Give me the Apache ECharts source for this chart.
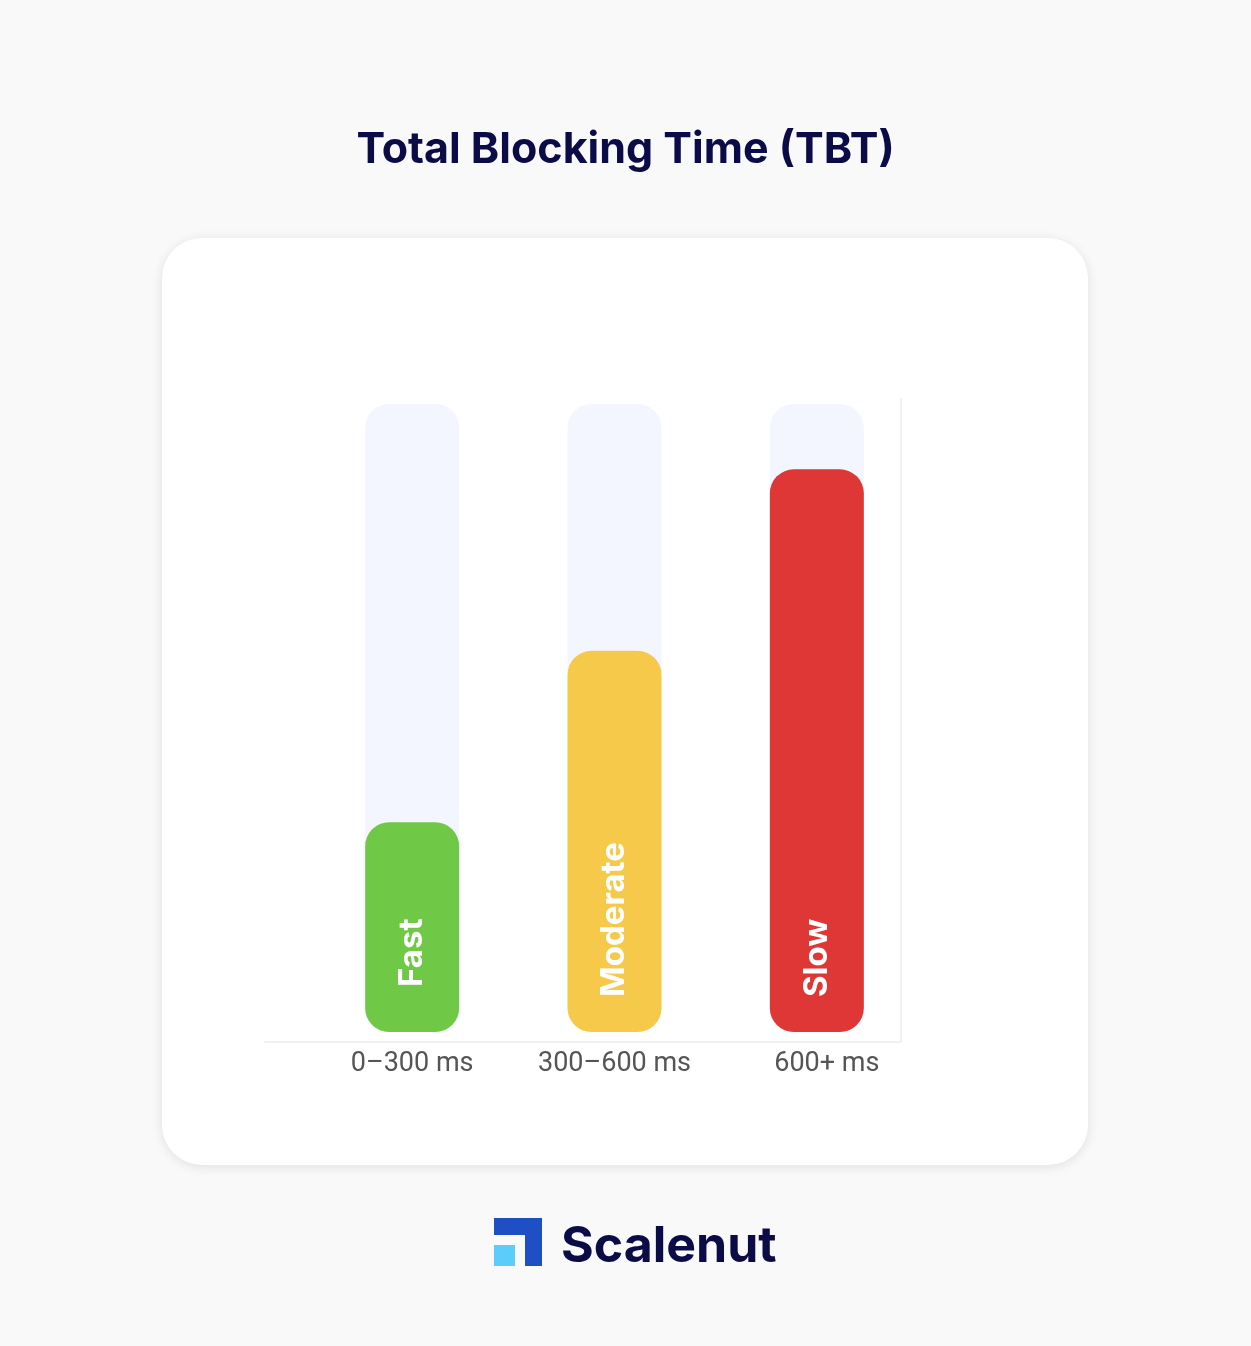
<!DOCTYPE html>
<html><head><meta charset="utf-8">
<script src="https://cdn.jsdelivr.net/npm/echarts@6/dist/echarts.min.js"></script>
<style>html,body{margin:0;padding:0;background:#f9f9f9}#c{width:1251px;height:1346px}</style>
</head><body><div id="c"></div>
<script>
const categories = ['0–300 ms', '300–600 ms', '600+ ms'];
const speedLabels = ['Fast', 'Moderate', 'Slow'];
const values = [33.4, 60.7, 89.6];
const barColors = ['#6fc846', '#f6c94a', '#df3636'];
const maxValue = 100;

const labelShift = [0, 0, 20];
const labelDistance = [45, 35, 35];

const chart = echarts.init(document.getElementById('c'), null, {renderer: 'canvas'});
chart.setOption({
  backgroundColor: '#f9f9f9',
  animation: false,
  title: {
    text: 'Total Blocking Time (TBT)',
    left: 'center', top: 124,
    textStyle: {fontFamily: 'Inter', fontWeight: 'bold', fontSize: 43, color: '#0b0b48', letterSpacing: -1.3}
  },
  graphic: [
    {type: 'rect', z: -5, shape: {x: 162, y: 238, width: 926, height: 927, r: 40},
     style: {fill: '#ffffff', shadowBlur: 12, shadowColor: 'rgba(0,0,0,0.10)', shadowOffsetY: 2}},
    {type: 'line', z: 1, shape: {x1: 264, y1: 1042, x2: 901, y2: 1042}, style: {stroke: '#eef1fa', lineWidth: 2}},
    {type: 'line', z: 1, shape: {x1: 901, y1: 398, x2: 901, y2: 1042}, style: {stroke: '#eef1fa', lineWidth: 2}},
    {type: 'polygon', z: 5, shape: {points: [[494,1218],[542,1218],[542,1266],[525,1266],[525,1235],[494,1235]]}, style: {fill: '#1f4fc4'}},
    {type: 'rect', z: 5, shape: {x: 494, y: 1245, width: 21, height: 21}, style: {fill: '#5ccdfa'}},
    {type: 'text', z: 5, x: 561, y: 1247, style: {text: 'Scalenut', fontFamily: 'Inter', fontWeight: 'bold', fontSize: 50, fill: '#0b0b48', verticalAlign: 'middle', letterSpacing: -1.2}}
  ],
  grid: {left: 311, top: 404, width: 607, height: 628, containLabel: false},
  xAxis: {
    type: 'category',
    data: categories.map((c, i) => ({value: c, textStyle: {padding: [0, 0, 0, labelShift[i]]}})),
    axisLine: {show: false}, axisTick: {show: false},
    axisLabel: {margin: 19, fontFamily: 'Roboto', fontSize: 27, color: '#555555'}
  },
  yAxis: {type: 'value', min: 0, max: maxValue, show: false, splitLine: {show: false}},
  series: [{
    type: 'bar', barWidth: 94,
    data: values.map((v, i) => ({value: v, itemStyle: {color: barColors[i]},
      label: {formatter: speedLabels[i], distance: labelDistance[i]}})),
    itemStyle: {borderRadius: 24},
    showBackground: true,
    backgroundStyle: {color: '#f3f6fe', borderRadius: 24},
    label: {
      show: true, position: 'insideBottom', rotate: 90,
      align: 'left', verticalAlign: 'middle',
      fontFamily: 'Inter', fontWeight: 'bold', fontSize: 33, color: '#ffffff'
    }
  }]
});
</script></body></html>
